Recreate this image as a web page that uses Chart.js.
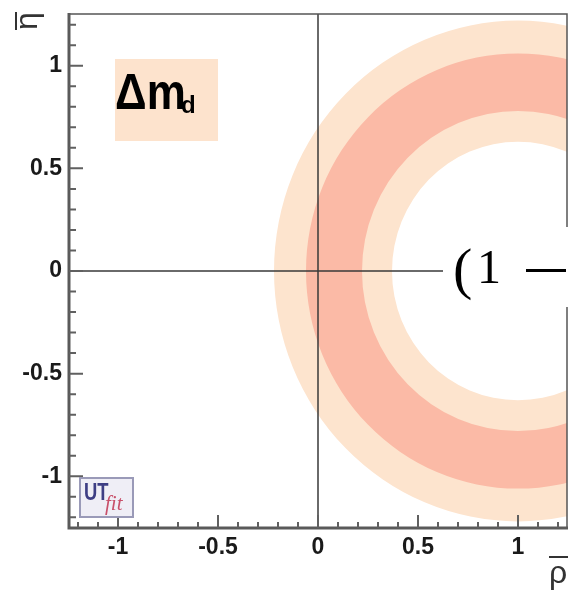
<!DOCTYPE html>
<html>
<head>
<meta charset="utf-8">
<script src="https://cdn.jsdelivr.net/npm/chart.js@4/dist/chart.umd.min.js"></script>
<style>
  body { margin: 0; background: #fff; }
  canvas { display: block; }
</style>
</head>
<body>
<canvas id="myChart" width="576" height="597"></canvas>
<script>
// axis ranges (rho-bar, eta-bar)
var xRange = [-1.245, 1.245];
var yRange = [-1.252, 1.252];
var tickStep = 0.1;

// Delta m_d constraint: rings centred on (1, 0)
var ringCenter = [1, 0];
var band95 = [1.22, 0.63];   // outer, inner radius
var band68 = [1.06, 0.78];

var lightColor = 'rgb(253,228,206)';
var darkColor = 'rgb(251,186,166)';

function ring(chart, c, band, color) {
    var ctx = chart.ctx;
    var xs = chart.scales.x, ys = chart.scales.y;
    var cx = xs.getPixelForValue(c[0]);
    var cy = ys.getPixelForValue(c[1]);
    ctx.beginPath();
    for (var i = 0; i < band.length; i++) {
        var rx = Math.abs(xs.getPixelForValue(c[0] + band[i]) - cx);
        var ry = Math.abs(ys.getPixelForValue(c[1] + band[i]) - cy);
        ctx.moveTo(cx + rx, cy);
        ctx.ellipse(cx, cy, rx, ry, 0, 0, Math.PI * 2);
    }
    ctx.fillStyle = color;
    ctx.fill('evenodd');
}

function isMajor(v) {
    return Math.abs(Math.round(v * 10) % 5) === 0;
}

var utPlot = {
    id: 'utPlot',
    beforeDatasetsDraw: function(chart) {
        var ctx = chart.ctx;
        var a = chart.chartArea;
        var xs = chart.scales.x, ys = chart.scales.y;
        ctx.save();
        ctx.beginPath();
        ctx.rect(a.left, a.top, a.right - a.left, a.bottom - a.top);
        ctx.clip();
        ring(chart, ringCenter, band95, lightColor);
        ring(chart, ringCenter, band68, darkColor);

        // rho = 0 and eta = 0 lines
        ctx.strokeStyle = '#3a3a3a';
        ctx.lineWidth = 1.5;
        var x0 = xs.getPixelForValue(0), y0 = ys.getPixelForValue(0);
        ctx.beginPath();
        ctx.moveTo(x0, a.top); ctx.lineTo(x0, a.bottom);
        ctx.moveTo(a.left, y0); ctx.lineTo(a.right, y0);
        ctx.stroke();
        ctx.restore();
    },
    afterDraw: function(chart) {
        var ctx = chart.ctx;
        var a = chart.chartArea;
        var xs = chart.scales.x, ys = chart.scales.y;
        ctx.save();

        // frame
        ctx.strokeStyle = '#555';
        ctx.lineWidth = 1.5;
        ctx.beginPath();
        ctx.moveTo(a.left, a.top); ctx.lineTo(a.right, a.top); ctx.lineTo(a.right, a.bottom);
        ctx.stroke();
        ctx.strokeStyle = '#5a5a5a';
        ctx.lineWidth = 3;
        ctx.beginPath();
        ctx.moveTo(a.left, a.top - 1); ctx.lineTo(a.left, a.bottom); ctx.lineTo(a.right + 1, a.bottom);
        ctx.stroke();

        // inner tick marks
        ctx.lineWidth = 2;
        ctx.strokeStyle = '#606060';
        ctx.beginPath();
        xs.ticks.forEach(function(t) {
            var px = xs.getPixelForValue(t.value);
            var len = isMajor(t.value) ? 13 : 6;
            ctx.moveTo(px, a.bottom); ctx.lineTo(px, a.bottom - len);
        });
        ys.ticks.forEach(function(t) {
            var py = ys.getPixelForValue(t.value);
            var len = isMajor(t.value) ? 14 : 7;
            ctx.moveTo(a.left, py); ctx.lineTo(a.left + len, py);
        });
        ctx.stroke();

        // Delta m_d label
        ctx.fillStyle = 'rgb(253,227,205)';
        ctx.fillRect(115, 59, 103, 82);
        ctx.fillStyle = '#000';
        ctx.textBaseline = 'alphabetic';
        ctx.textAlign = 'left';
        ctx.save();
        ctx.translate(115, 109);
        ctx.scale(0.88, 1);
        ctx.font = 'bold 50px "Liberation Sans", Arial, sans-serif';
        ctx.fillText('\u0394m', 0, 0);
        ctx.restore();
        ctx.font = 'bold 24px "Liberation Sans", Arial, sans-serif';
        ctx.fillText('d', 181, 113);

        // UTfit logo
        ctx.fillStyle = '#efeef6';
        ctx.fillRect(80, 478, 53, 39);
        ctx.strokeStyle = '#9a9ab8';
        ctx.lineWidth = 2;
        ctx.strokeRect(80, 478, 53, 39);
        ctx.save();
        ctx.translate(84, 500);
        ctx.scale(0.8, 1);
        ctx.fillStyle = '#3e3e84';
        ctx.font = 'bold 23px "Liberation Sans", Arial, sans-serif';
        ctx.fillText('UT', 0, 0);
        ctx.restore();
        ctx.fillStyle = '#c8506a';
        ctx.font = 'italic 21px "Liberation Serif", serif';
        ctx.fillText('fit', 105, 510);

        // cut-off formula overlay
        ctx.fillStyle = '#fff';
        ctx.fillRect(443, 227, 576 - 443, 80);
        ctx.fillStyle = '#000';
        ctx.font = '58px "Liberation Serif", "DejaVu Serif", serif';
        ctx.fillText('(', 453, 288);
        ctx.font = '48px "Liberation Serif", "DejaVu Serif", serif';
        ctx.fillText('1', 477, 283);
        ctx.fillRect(526, 269, 40, 3);

        // axis titles
        ctx.fillStyle = '#333';
        ctx.strokeStyle = '#333';
        ctx.lineWidth = 2;
        ctx.font = '32px "Liberation Sans", Arial, sans-serif';
        ctx.textAlign = 'center';
        ctx.fillText('\u03c1', 558, 583);
        ctx.beginPath();
        ctx.moveTo(549, 557); ctx.lineTo(568, 557);
        ctx.stroke();

        ctx.save();
        ctx.translate(37, 21);
        ctx.rotate(-Math.PI / 2);
        ctx.fillText('\u03b7', 0, 0);
        ctx.beginPath();
        ctx.moveTo(-9, -21); ctx.lineTo(9, -21);
        ctx.stroke();
        ctx.restore();

        ctx.restore();
    }
};

var tickFont = { family: '"Liberation Sans", Arial, sans-serif', size: 23, weight: 'bold' };

function tickLabel(v) {
    if (!isMajor(v)) return '';
    return String(Math.round(v * 10) / 10);
}

var ctx = document.getElementById('myChart').getContext('2d');
var myChart = new Chart(ctx, {
    type: 'scatter',
    data: {
        datasets: [{
            label: '\u0394m_d',
            data: [{ x: ringCenter[0], y: ringCenter[1] }],
            pointRadius: 0
        }]
    },
    options: {
        responsive: false,
        animation: false,
        layout: { padding: { top: 14, right: 9, left: 0, bottom: 0 } },
        plugins: { legend: { display: false }, tooltip: { enabled: false } },
        scales: {
            x: {
                type: 'linear',
                min: xRange[0],
                max: xRange[1],
                grid: { display: false, drawTicks: false },
                border: { display: false },
                ticks: {
                    stepSize: tickStep,
                    includeBounds: false,
                    autoSkip: false,
                    maxRotation: 0,
                    padding: 6,
                    color: '#1a1a1a',
                    font: tickFont,
                    callback: tickLabel
                },
                afterFit: function(s) {
                    s.height = 69;
                    s.paddingLeft = 0; s.paddingRight = 0;
                }
            },
            y: {
                type: 'linear',
                min: yRange[0],
                max: yRange[1],
                grid: { display: false, drawTicks: false },
                border: { display: false },
                ticks: {
                    stepSize: tickStep,
                    includeBounds: false,
                    autoSkip: false,
                    padding: 7,
                    color: '#1a1a1a',
                    font: tickFont,
                    callback: tickLabel
                },
                afterFit: function(s) {
                    s.width = 69;
                    s.paddingTop = 0; s.paddingBottom = 0;
                }
            }
        }
    },
    plugins: [utPlot]
});
</script>
</body>
</html>
